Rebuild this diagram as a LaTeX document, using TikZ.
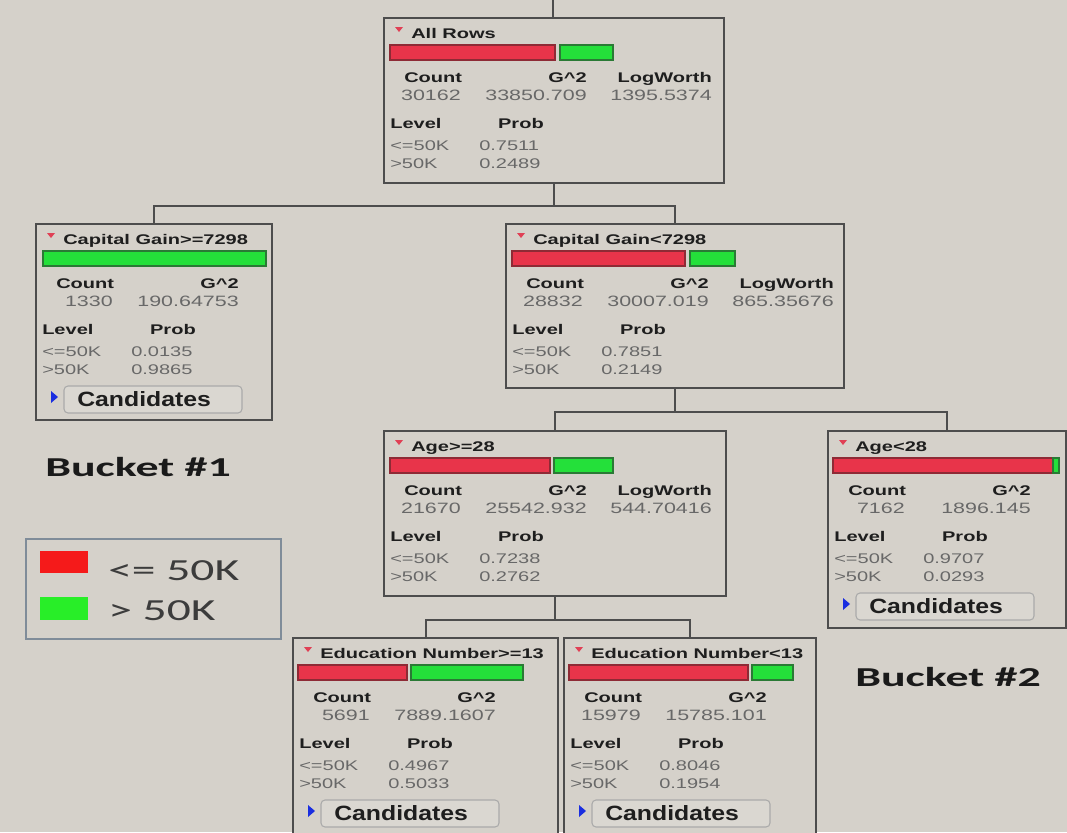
\documentclass[tikz,border=0pt]{standalone}
\usepackage{fontspec}
\setmainfont{Liberation Sans}
\newfontfamily\nf[FakeStretch=1.43]{Liberation Sans}
\newfontfamily\cf[FakeStretch=1.2]{Liberation Sans}
\newfontfamily\bkf[FakeStretch=1.55]{Carlito}
\newfontfamily\bkbf[FakeStretch=1.68]{Carlito}
\definecolor{bg}{HTML}{D5D1CA}
\definecolor{edgec}{HTML}{4D4D4D}
\definecolor{hdr}{HTML}{1E1E1E}
\definecolor{valc}{HTML}{686868}
\definecolor{barred}{HTML}{E8344A}
\definecolor{barredline}{HTML}{8E2A35}
\definecolor{bargreen}{HTML}{24E03A}
\definecolor{bargreenline}{HTML}{2A7A35}
\definecolor{legred}{HTML}{F51A1A}
\definecolor{leggreen}{HTML}{28EE28}
\definecolor{legline}{HTML}{7F8C99}
\definecolor{triblue}{HTML}{1A2EE0}
\definecolor{trired}{HTML}{E04055}
\definecolor{btnline}{HTML}{AAAAAA}
\definecolor{btnfill}{HTML}{DAD7D1}
\definecolor{bigtext}{HTML}{1A1A1A}
\tikzset{
 tbox/.style={draw=edgec, line width=1.5pt, fill=bg, rectangle, inner sep=0pt, anchor=north west},
 conn/.style={draw=edgec, line width=1.5pt},
 hd/.style={font=\nf\bfseries\fontsize{10.5}{12}\selectfont, text=hdr, inner sep=0pt},
 vl/.style={font=\nf\fontsize{11.25}{13}\selectfont, text=valc, inner sep=0pt},
 pv/.style={font=\nf\fontsize{10.5}{12}\selectfont, text=valc, inner sep=0pt},
 cd/.style={font=\cf\bfseries\fontsize{15.5}{18}\selectfont, text=hdr, inner sep=0pt},
 bucket/.style={font=\bkbf\bfseries\fontsize{20.5}{23}\selectfont, text=bigtext, inner sep=0pt},
 legtext/.style={font=\bkf\fontsize{23}{26}\selectfont, text=bigtext!85, inner sep=0pt},
 redbar/.style={fill=barred, draw=barredline, line width=0.9pt},
 greenbar/.style={fill=bargreen, draw=bargreenline, line width=0.9pt}
}
\newcommand\tnode[5]{\node[tbox, minimum width=#4*0.75pt, minimum height=#5*0.75pt] (#1) at (#2,#3) {};}
\newcommand\ttl[2]{%
 \fill[trired] (12,10) -- (20,10) -- (16,15) -- cycle;
 \node[hd, anchor=base west] (#1t) at (28,21) {#2};}
\newcommand\rbar[2]{\draw[redbar] (#1,28) rectangle (#2,43);}
\newcommand\gbar[2]{\draw[greenbar] (#1,28) rectangle (#2,43);}
\newcommand\hdrrow[1]{%
 \node[hd, anchor=base west] (#1c) at (21,65) {Count};
 \node[hd, anchor=base east] (#1g) at (204,65) {G\textasciicircum 2};}
\newcommand\lw[1]{\node[hd, anchor=base east] (#1l) at (329,65) {LogWorth};}
\newcommand\vals[3]{%
 \node[vl, anchor=base east] (#1va) at (78,83) {#2};
 \node[vl, anchor=base east] (#1vb) at (204,83) {#3};}
\newcommand\lwv[2]{\node[vl, anchor=base east] (#1vc) at (329,83) {#2};}
\newcommand\probs[3]{%
 \node[hd, anchor=base west] (#1lev) at (7,111) {Level};
 \node[hd, anchor=base east] (#1prob) at (161,111) {Prob};
 \node[pv, anchor=base west] (#1la) at (7,133) {<=50K};
 \node[pv, anchor=base west] (#1pa) at (96,133) {#2};
 \node[pv, anchor=base west] (#1lb) at (7,151) {>50K};
 \node[pv, anchor=base west] (#1pb) at (96,151) {#3};}
\newcommand\cand[1]{%
 \draw[draw=btnline, fill=btnfill, rounded corners=3pt, line width=0.8pt] (29,163) rectangle (207,190);
 \fill[triblue] (16,168) -- (23,174) -- (16,180) -- cycle;
 \node[cd, anchor=base west] (#1cand) at (42,183) {Candidates};}
\begin{document}
\begin{tikzpicture}[x=0.75pt,y=-0.75pt]
\fill[bg] (0,0) rectangle (1067,832);
\useasboundingbox (0,0) rectangle (1067,832);

% boxes
\tnode{root}{383}{17}{340}{165}
\tnode{cga}{35}{223}{236}{196}
\tnode{cgb}{505}{223}{338}{164}
\tnode{agea}{383}{430}{342}{165}
\tnode{ageb}{827}{430}{238}{197}
\tnode{edua}{292}{637}{265}{210}
\tnode{edub}{563}{637}{252}{210}

% connectors
\coordinate (top) at (553,0);
\draw[conn] (top) -- (top |- root.north);
\draw[conn] (root.south) -- ++(0,22) -| (cga.north);
\draw[conn] (root.south) -- ++(0,22) -| (cgb.north);
\draw[conn] (cgb.south) -- ++(0,23) -| (agea.north);
\draw[conn] (cgb.south) -- ++(0,23) -| (ageb.north);
\draw[conn] (agea.south) -- ++(0,23) -| (edua.north);
\draw[conn] (agea.south) -- ++(0,23) -| (edub.north);

% All Rows
\begin{scope}[shift={(383,17)}]
 \ttl{r}{All Rows}
 \rbar{7}{172}\gbar{177}{230}
 \hdrrow{r}\lw{r}
 \vals{r}{30162}{33850.709}\lwv{r}{1395.5374}
 \probs{r}{0.7511}{0.2489}
\end{scope}

% Capital Gain>=7298
\begin{scope}[shift={(35,223)}]
 \ttl{a}{Capital Gain>=7298}
 \gbar{8}{231}
 \hdrrow{a}
 \vals{a}{1330}{190.64753}
 \probs{a}{0.0135}{0.9865}
 \cand{a}
\end{scope}

% Capital Gain<7298
\begin{scope}[shift={(505,223)}]
 \ttl{b}{Capital Gain<7298}
 \rbar{7}{180}\gbar{185}{230}
 \hdrrow{b}\lw{b}
 \vals{b}{28832}{30007.019}\lwv{b}{865.35676}
 \probs{b}{0.7851}{0.2149}
\end{scope}

% Age>=28
\begin{scope}[shift={(383,430)}]
 \ttl{c}{Age>=28}
 \rbar{7}{167}\gbar{171}{230}
 \hdrrow{c}\lw{c}
 \vals{c}{21670}{25542.932}\lwv{c}{544.70416}
 \probs{c}{0.7238}{0.2762}
\end{scope}

% Age<28
\begin{scope}[shift={(827,430)}]
 \ttl{d}{Age<28}
 \rbar{6}{226}\gbar{226}{232}
 \hdrrow{d}
 \vals{d}{7162}{1896.145}
 \probs{d}{0.9707}{0.0293}
 \cand{d}
\end{scope}

% Education Number>=13
\begin{scope}[shift={(292,637)}]
 \ttl{e}{Education Number>=13}
 \rbar{6}{115}\gbar{119}{231}
 \hdrrow{e}
 \vals{e}{5691}{7889.1607}
 \probs{e}{0.4967}{0.5033}
 \cand{e}
\end{scope}

% Education Number<13
\begin{scope}[shift={(563,637)}]
 \ttl{f}{Education Number<13}
 \rbar{6}{185}\gbar{189}{230}
 \hdrrow{f}
 \vals{f}{15979}{15785.101}
 \probs{f}{0.8046}{0.1954}
 \cand{f}
\end{scope}

% buckets
\node[bucket, anchor=base west] (bucketa) at (45,476) {Bucket \#1};
\node[bucket, anchor=base west] (bucketb) at (855,686) {Bucket \#2};

% legend
\node[draw=legline, line width=1.5pt, fill=bg, anchor=north west, inner sep=0pt,
      minimum width=255*0.75pt, minimum height=100*0.75pt] (legend) at (25,538) {};
\fill[legred] (40,551) rectangle (88,573);
\fill[leggreen] (40,597) rectangle (88,620);
\node[legtext, anchor=base west] (lega) at (108,580) {<= 50K};
\node[legtext, anchor=base west] (legb) at (108,620) {> 50K};
\end{tikzpicture}
\end{document}
